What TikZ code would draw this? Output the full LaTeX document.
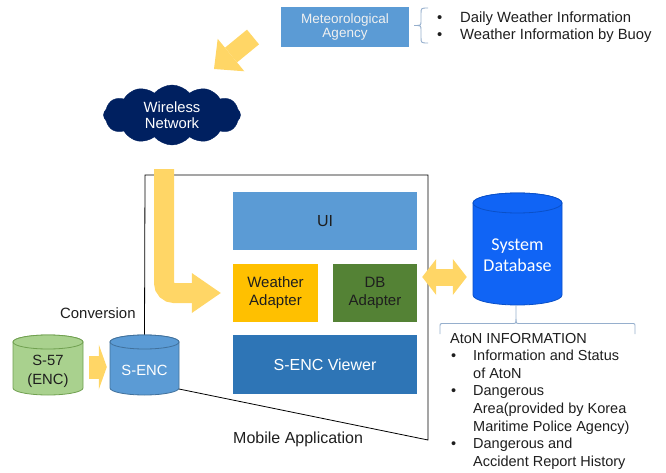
\documentclass[tikz,border=0pt]{standalone}
\usepackage{fontspec}
\setmainfont{Liberation Sans}
\newfontfamily\carlitofont{Carlito}
\usetikzlibrary{arrows.meta,shapes.symbols,calc}

\definecolor{metblue}{RGB}{91,155,213}
\definecolor{metText}{RGB}{240,240,240}
\definecolor{navycloud}{RGB}{0,32,96}
\definecolor{wadapt}{RGB}{255,192,0}
\definecolor{dbgreen}{RGB}{84,130,53}
\definecolor{viewerblue}{RGB}{46,117,182}
\definecolor{sysblue}{RGB}{16,100,245}
\definecolor{sysdraw}{RGB}{10,80,200}
\definecolor{sfill}{RGB}{169,209,142}
\definecolor{sdraw}{RGB}{112,160,80}
\definecolor{sencfill}{RGB}{91,155,213}
\definecolor{sencdraw}{RGB}{65,113,156}
\definecolor{ayellow}{RGB}{255,214,102}
\definecolor{bracec}{RGB}{150,175,205}
\definecolor{textdark}{RGB}{30,30,30}

\newcommand{\mycyl}[8]{%
  \path[fill=#6,draw=#7,line width=0.8pt] (#1-#4,#3-#5)
    arc[start angle=180,end angle=360,x radius=#4pt,y radius=#5pt]
    -- (#1+#4,#2+#5)
    arc[start angle=0,end angle=180,x radius=#4pt,y radius=#5pt] -- cycle;
  \path[fill=#8,draw=#7,line width=0.8pt] (#1,#2+#5) ellipse [x radius=#4pt,y radius=#5pt];
}

\begin{document}
\begin{tikzpicture}[x=1pt,y=-1pt,
  blockbox/.style={inner sep=0,align=center,text=textdark},
  txt/.style={inner sep=0,anchor=base west,text=textdark,font=\fontsize{14.5}{17}\selectfont},
  fat/.style={draw=ayellow,line width=#1}
]
\useasboundingbox (0,0) rectangle (666,473);

% ---------- frame of the mobile application ----------
\node[inner sep=0,minimum width=69pt,minimum height=70pt] (senc) at (144.5,370) {};
\coordinate (ftl) at (145,175);
\coordinate (ftr) at (428,175);
\coordinate (fbr) at (428,440);
\coordinate (fbl) at (179,389);
\draw[black,line width=0.8pt] (senc.north) -- (ftl) -- (ftr) -- (fbr) -- (fbl);

% ---------- meteorological agency ----------
\node[blockbox,fill=metblue,minimum width=128pt,minimum height=40pt,text=metText,
      font=\fontsize{13.5}{14.5}\selectfont] (met) at (345,27) {Meteorological\\Agency};
\draw[bracec,line width=0.9pt] (428,8) .. controls (421,8) .. (421,14) -- (421,21)
   .. controls (421,25.5) .. (414,25.5) .. controls (421,25.5) .. (421,30) -- (421,37)
   .. controls (421,43) .. (428,43);
\node[txt,font=\fontsize{14.8}{17}\selectfont] (mb1) at (437,22.7) {•};
\node[txt,font=\fontsize{14.8}{17}\selectfont] (mt1) at (460,22.7) {Daily Weather Information};
\node[txt,font=\fontsize{14.8}{17}\selectfont] (mb2) at (437,40) {•};
\node[txt,font=\fontsize{14.8}{17}\selectfont] (mt2) at (460,40) {Weather Information by Buoy};

% ---------- wireless network ----------
\node[cloud,cloud puffs=12,cloud puff arc=100,cloud ignores aspect,fill=navycloud,draw=navycloud,
      minimum width=137pt,minimum height=60pt,inner sep=0,align=center,text=white,
      font=\fontsize{14.8}{16}\selectfont] (cloud) at (172,115) {Wireless\\Network};

% ---------- application blocks ----------
\node[blockbox,fill=metblue,minimum width=184pt,minimum height=58pt,
      font=\fontsize{16}{18}\selectfont] (ui) at (325,221) {UI};
\node[blockbox,fill=wadapt,minimum width=85pt,minimum height=58pt,
      font=\fontsize{15}{18}\selectfont] (weather) at (275.5,293) {Weather\\Adapter};
\node[blockbox,fill=dbgreen,minimum width=84pt,minimum height=58pt,
      font=\fontsize{15}{18}\selectfont] (dbad) at (375,293) {DB\\Adapter};
\node[blockbox,fill=viewerblue,minimum width=184pt,minimum height=59pt,text=white,
      font=\fontsize{16}{18}\selectfont] (viewer) at (325,364.5) {S-ENC Viewer};
\node[txt,font=\fontsize{16}{18}\selectfont] (mobile) at (233,443) {Mobile Application};

% ---------- cylinders ----------
\mycyl{48}{335}{395}{35}{7}{sfill}{sdraw}{sfill}
\mycyl{144.5}{335}{395}{34.5}{7}{sencfill}{sencdraw}{sencfill}
\mycyl{517.5}{193}{305}{44.5}{10}{sysblue}{sysdraw}{sysblue}
\node[inner sep=0,minimum width=70pt,minimum height=60pt,align=center,text=textdark,
      font=\fontsize{14.8}{19}\selectfont] (s57) at (48,371) {S-57\\(ENC)};
\node[inner sep=0,align=center,text=white,font=\fontsize{14.8}{17}\selectfont]
      (senctext) at (senc) {S-ENC};
\node[inner sep=0,minimum width=89pt,minimum height=100pt,align=center,text=white,
      font=\carlitofont\fontsize{18}{20.5}\selectfont] (sysdb) at (517.5,255) {System\\Database};
\node[txt,font=\fontsize{14.9}{17}\selectfont] (conv) at (60,318) {Conversion};

% ---------- block arrows ----------
\coordinate (dA) at (253,37);
\coordinate (dB) at (214,69);
\draw[fat=19pt,-{Triangle[width=42pt,length=22pt,line width'=0pt]}] (dA) -- (dB);

\draw[fat=20pt,rounded corners=10pt,-{Triangle[width=40pt,length=29pt,line width'=0pt]}]
  ($(cloud.south)+(-8,24)$) |- ([xshift=-12pt]weather.west);

\draw[fat=17pt,{Triangle[width=36pt,length=14pt,line width'=0pt]}-{Triangle[width=36pt,length=14pt,line width'=0pt]}]
  ($(dbad.east)+(5,-16)$) coordinate (ax) -- ([xshift=-6pt]ax -| sysdb.west);

\draw[fat=23pt,-{Triangle[width=45pt,length=8pt,line width'=0pt]}]
  ($(s57.east)+(6,-4)$) coordinate (cA) -- ([xshift=-3pt]cA -| senc.west);

% ---------- AtoN information ----------
\draw[bracec,line width=0.9pt] (440,334) -- (440,327) .. controls (440,323.5) .. (444,323.5)
   -- (512,323.5) .. controls (516,323.5) .. (516,319) -- (516,305);
\draw[bracec,line width=0.9pt] (516,319) .. controls (516,323.5) .. (520,323.5)
   -- (631,323.5) .. controls (635,323.5) .. (635,327) -- (635,334);
\node[txt] (aton) at (450,343) {AtoN INFORMATION};
\node[txt] (ab1) at (451,360.6) {•};
\node[txt] (al1) at (473,360.6) {Information and Status};
\node[txt] (al2) at (473,378.2) {of AtoN};
\node[txt] (ab2) at (451,395.8) {•};
\node[txt] (al3) at (473,395.8) {Dangerous};
\node[txt] (al4) at (473,413.4) {Area(provided by Korea};
\node[txt] (al5) at (473,431) {Maritime Police Agency)};
\node[txt] (ab3) at (451,448.6) {•};
\node[txt] (al6) at (473,448.6) {Dangerous and};
\node[txt] (al7) at (473,466.2) {Accident Report History};
\end{tikzpicture}
\end{document}
